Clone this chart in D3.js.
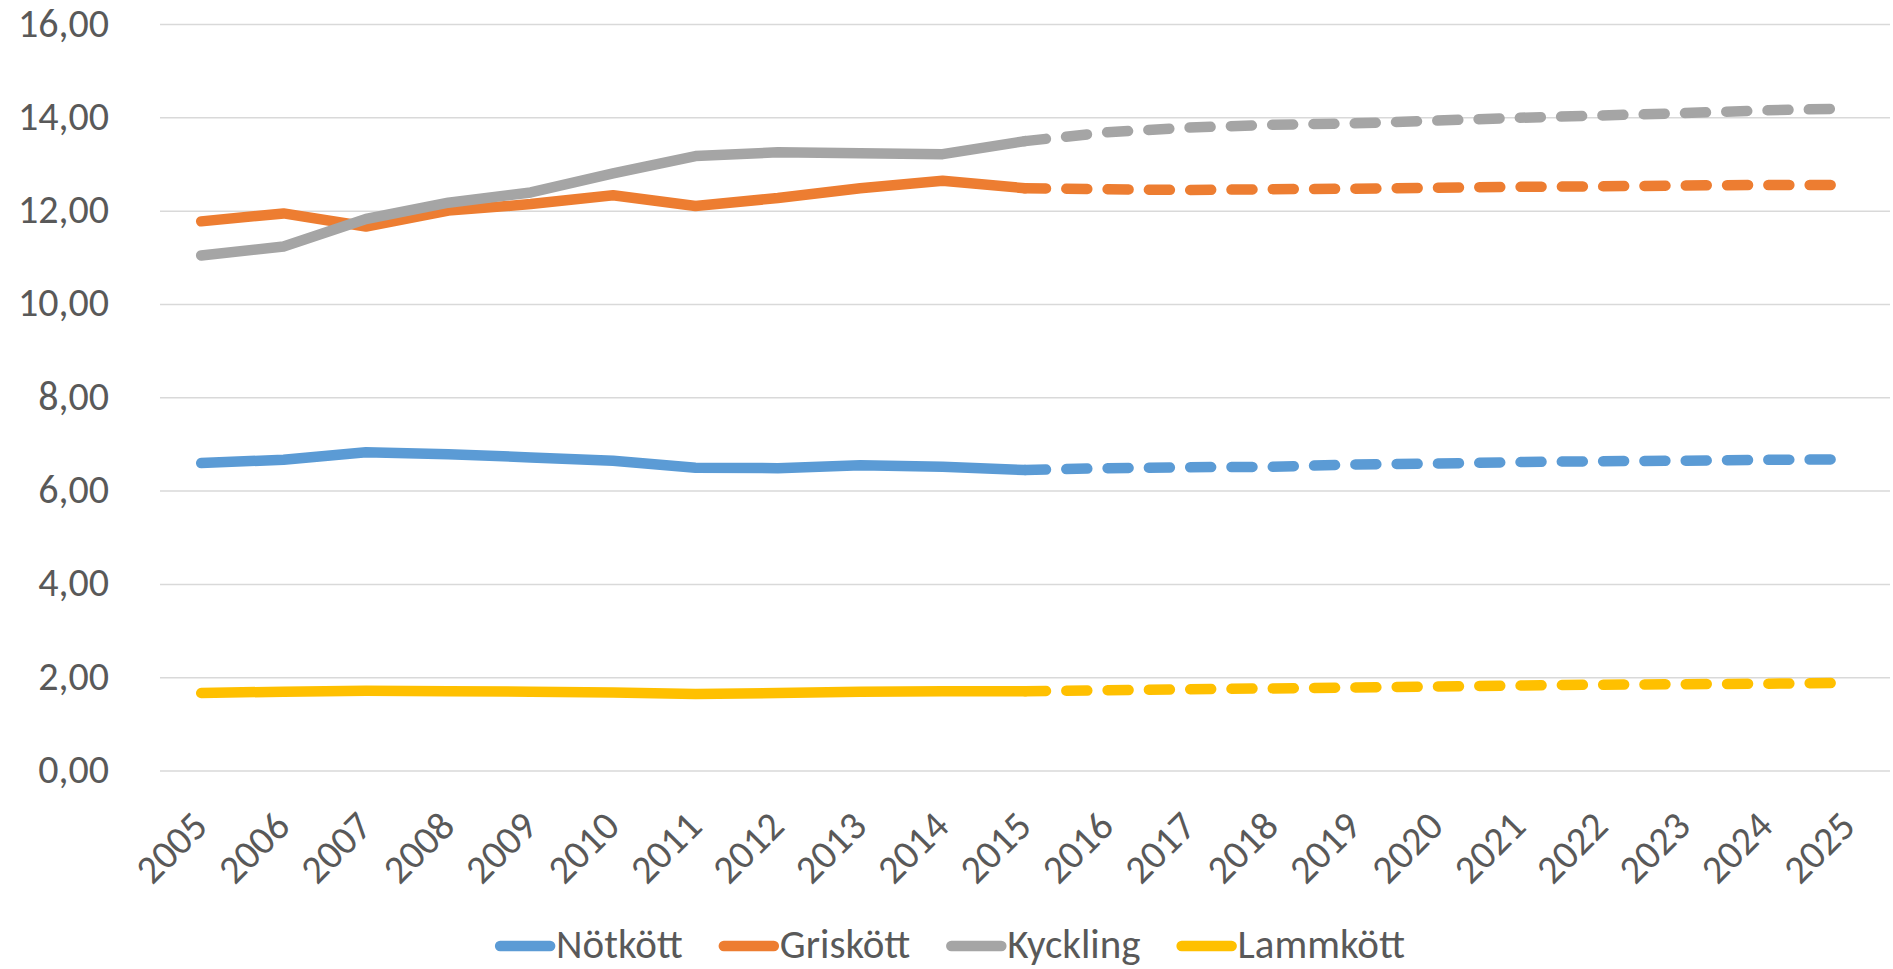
<html>
<head>
<meta charset="utf-8">
<script src="https://cdn.jsdelivr.net/npm/d3@7"></script>
<style>
  body { margin: 0; background: #fff; }
  text { font-family: Carlito, Calibri, "Liberation Sans", Arial, sans-serif; fill: #595959; }
</style>
</head>
<body>
<div id="chart"></div>
<script>
// years on the category axis
var years = ["2005","2006","2007","2008","2009","2010","2011","2012","2013","2014","2015",
             "2016","2017","2018","2019","2020","2021","2022","2023","2024","2025"];
var histYears = years.slice(0, 11);   // 2005-2015, solid
var progYears = years.slice(10);      // 2015-2025, dashed

var yTicks = [0, 2, 4, 6, 8, 10, 12, 14, 16];

// series values
var notHist  = [6.59, 6.66, 6.82, 6.78, 6.71, 6.64, 6.49, 6.48, 6.54, 6.51, 6.44];
var notProg  = [6.44, 6.48, 6.50, 6.51, 6.56, 6.58, 6.61, 6.63, 6.64, 6.66, 6.67];
var grisHist = [11.77, 11.94, 11.66, 12.00, 12.14, 12.33, 12.10, 12.27, 12.48, 12.64, 12.48];
var grisProg = [12.48, 12.46, 12.44, 12.46, 12.47, 12.49, 12.51, 12.52, 12.54, 12.55, 12.55];
var kycHist  = [11.04, 11.23, 11.82, 12.17, 12.39, 12.80, 13.17, 13.25, 13.23, 13.21, 13.49];
var kycProg  = [13.49, 13.68, 13.78, 13.84, 13.87, 13.93, 13.99, 14.04, 14.09, 14.15, 14.19];
var lamHist  = [1.66, 1.69, 1.71, 1.70, 1.69, 1.67, 1.64, 1.66, 1.69, 1.70, 1.70];
var lamProg  = [1.70, 1.72, 1.74, 1.76, 1.78, 1.80, 1.82, 1.84, 1.85, 1.86, 1.88];

var names  = ["Nötkött", "Griskött", "Kyckling", "Lammkött"];
var colors = ["#5b9bd5", "#ed7d31", "#a5a5a5", "#ffc000"];
var hist = [notHist, grisHist, kycHist, lamHist];
var prog = [notProg, grisProg, kycProg, lamProg];

var W = 1893, H = 969,
    LEFT = 160, RIGHT = 1890, TOP = 24, BOTTOM = 770.5,
    LINE_W = 10.5;

var svg = d3.select("#chart").append("svg").attr("width", W).attr("height", H);

var x = d3.scalePoint().domain(years).range([LEFT, RIGHT]).padding(0.5);
var y = d3.scaleLinear().domain([0, 16]).range([BOTTOM, TOP]);

// gridlines + y labels
var yAxis = d3.axisLeft(y).tickValues(yTicks)
  .tickSize(-(RIGHT - LEFT)).tickPadding(51)
  .tickFormat(function(d) { return d3.format(".2f")(d).replace(".", ","); });
var gy = svg.append("g").attr("transform", "translate(" + LEFT + ",0)").call(yAxis);
gy.select(".domain").remove();
gy.selectAll(".tick line").attr("stroke", "#d9d9d9").attr("stroke-width", 1.5);
gy.selectAll(".tick text").attr("font-size", 40).attr("fill", "#595959").attr("dy", "0.3em");

// x labels, rotated
var xAxis = d3.axisBottom(x).tickSize(0).tickPadding(0);
var gx = svg.append("g").attr("transform", "translate(0," + BOTTOM + ")").call(xAxis);
gx.select(".domain").remove();
gx.selectAll(".tick text")
  .attr("font-size", 40).attr("fill", "#595959")
  .attr("text-anchor", "end")
  .attr("dy", null).attr("y", null)
  .attr("transform", "translate(8,58) rotate(-45)");

var line = d3.line()
  .x(function(d) { return x(d[0]); })
  .y(function(d) { return y(d[1]); });

var lines = svg.append("g");
hist.forEach(function(vals, i) {
  lines.append("path")
    .datum(histYears.map(function(yr, j) { return [yr, vals[j]]; }))
    .attr("d", line).attr("fill", "none")
    .attr("stroke", colors[i]).attr("stroke-width", LINE_W)
    .attr("stroke-linecap", "round").attr("stroke-linejoin", "round");
});
prog.forEach(function(vals, i) {
  lines.append("path")
    .datum(progYears.map(function(yr, j) { return [yr, vals[j]]; }))
    .attr("d", line).attr("fill", "none")
    .attr("stroke", colors[i]).attr("stroke-width", LINE_W)
    .attr("stroke-dasharray", "21,20.3")
    .attr("stroke-linecap", "round").attr("stroke-linejoin", "round");
});

// legend, centred
var legend = svg.append("g");
var LEG_Y = 946, SEG = 50, GAP_TXT = 6, GAP_ITEM = 36;
var items = names.map(function(n, i) {
  var g = legend.append("g");
  g.append("line").attr("x1", 5).attr("x2", 5 + SEG).attr("y1", LEG_Y).attr("y2", LEG_Y)
    .attr("stroke", colors[i]).attr("stroke-width", LINE_W).attr("stroke-linecap", "round");
  var t = g.append("text").attr("x", 5 + SEG + GAP_TXT).attr("y", LEG_Y + 12)
    .attr("font-size", 41).text(n);
  return { g: g, w: 5 + SEG + GAP_TXT + t.node().getComputedTextLength() };
});
var total = d3.sum(items, function(d) { return d.w; }) + GAP_ITEM * (items.length - 1);
var cx = 950 - total / 2;
items.forEach(function(it) {
  it.g.attr("transform", "translate(" + cx + ",0)");
  cx += it.w + GAP_ITEM;
});
</script>
</body>
</html>
